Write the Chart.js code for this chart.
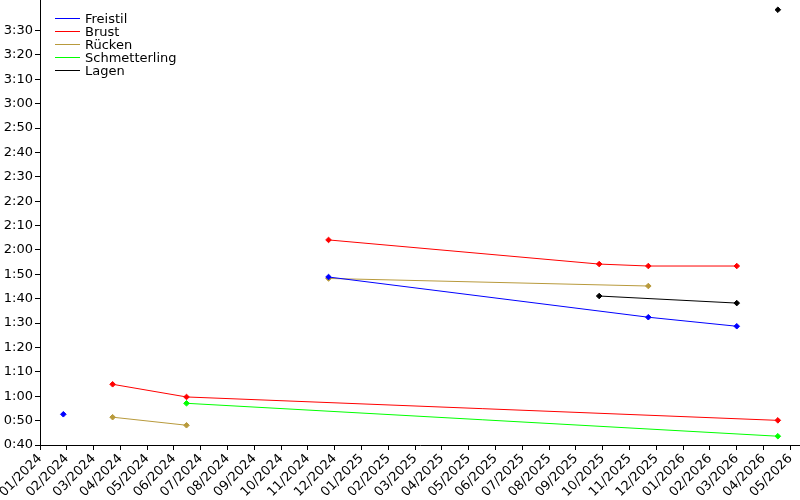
<!DOCTYPE html>
<html>
<head>
<meta charset="utf-8">
<script src="https://cdn.jsdelivr.net/npm/chart.js@4/dist/chart.umd.min.js"></script>
<style>
  body { margin: 0; background: #fff; }
</style>
</head>
<body>
<canvas id="myChart" width="800" height="500"></canvas>
<script>
// Zeiten in Sekunden, Datum des Wettkampfs
var freistil50Dates = ['2024-01-28'];
var freistil50Times = [52.6];
var freistil100Dates = ['2024-11-24', '2025-11-22', '2026-03-01'];
var freistil100Times = [108.9, 92.4, 88.7];

var brust50Dates = ['2024-03-23', '2024-06-15', '2026-04-17'];
var brust50Times = [64.9, 59.7, 50.1];
var brust100Dates = ['2024-11-24', '2025-09-27', '2025-11-22', '2026-03-01'];
var brust100Times = [124.1, 114.2, 113.4, 113.4];

var ruecken50Dates = ['2024-03-23', '2024-06-15'];
var ruecken50Times = [51.4, 48.1];
var ruecken100Dates = ['2024-11-24', '2025-11-22'];
var ruecken100Times = [108.3, 105.2];

var schmetterling50Dates = ['2024-06-15', '2026-04-17'];
var schmetterling50Times = [57.1, 43.6];

var lagen100Dates = ['2025-09-27', '2026-03-01'];
var lagen100Times = [101.1, 98.2];
var lagen200Dates = ['2026-04-17'];
var lagen200Times = [218.5];

// Monate ab 01/2024 als Zahl
function monthIndex(s) {
    var p = s.split('-');
    var y = +p[0], m = +p[1], d = +p[2];
    var days = new Date(y, m, 0).getDate();
    return (y - 2024) * 12 + (m - 1) + (d - 1) / days;
}

function points(dates, times) {
    var out = [];
    for (var i in dates) {
        out.push({ x: monthIndex(dates[i]), y: times[i] });
    }
    return out;
}

function fmtTime(v) {
    var m = Math.floor(v / 60);
    var s = Math.round(v - m * 60);
    return m + ':' + (s < 10 ? '0' : '') + s;
}

function fmtMonth(v) {
    var y = 2024 + Math.floor(v / 12);
    var m = v % 12 + 1;
    return (m < 10 ? '0' : '') + m + '/' + y;
}

function ds(label, color, data) {
    return {
        label: label,
        data: data,
        borderColor: color,
        backgroundColor: color,
        borderWidth: 1,
        pointStyle: 'rectRot',
        pointRadius: 2.8,
        pointBorderWidth: 1,
        tension: 0
    };
}

var blue = '#0000ff', red = '#ff0000', gold = '#b89a3c', green = '#00ff00', black = '#000000';

const chartdata = {
    datasets: [
        ds('Freistil', blue, points(freistil100Dates, freistil100Times)),
        ds('Brust', red, points(brust100Dates, brust100Times)),
        ds('Rücken', gold, points(ruecken100Dates, ruecken100Times)),
        ds('Schmetterling', green, points(schmetterling50Dates, schmetterling50Times)),
        ds('Lagen', black, points(lagen100Dates, lagen100Times)),
        ds('Freistil', blue, points(freistil50Dates, freistil50Times)),
        ds('Brust', red, points(brust50Dates, brust50Times)),
        ds('Rücken', gold, points(ruecken50Dates, ruecken50Times)),
        ds('Lagen', black, points(lagen200Dates, lagen200Times))
    ]
};

// Legende oben links im Diagramm
const innerLegend = {
    id: 'innerLegend',
    afterDraw: function(chart) {
        var ctx = chart.ctx;
        var seen = {};
        var row = 0;
        ctx.save();
        ctx.font = '13px "DejaVu Sans"';
        ctx.textBaseline = 'middle';
        chart.data.datasets.forEach(function(d) {
            if (seen[d.label]) return;
            seen[d.label] = true;
            var y = Math.round(17.5 + row * 13.2) + 0.5;
            ctx.strokeStyle = d.borderColor;
            ctx.lineWidth = 1;
            ctx.beginPath();
            ctx.moveTo(55, y);
            ctx.lineTo(80, y);
            ctx.stroke();
            ctx.fillStyle = '#000';
            ctx.fillText(d.label, 85, y + 1);
            row++;
        });
        ctx.restore();
    }
};

const config = {
    type: 'line',
    data: chartdata,
    options: {
        responsive: false,
        animation: false,
        devicePixelRatio: 1,
        layout: { padding: 0, autoPadding: false },
        plugins: {
            legend: { display: false },
            tooltip: { enabled: false }
        },
        scales: {
            x: {
                type: 'linear',
                min: 0,
                max: 28.36,
                grid: { drawOnChartArea: false, drawTicks: true, tickLength: 5, color: '#000' },
                border: { color: '#000', width: 1 },
                afterFit: function(axis) {
                    axis.height = 55;
                    axis.paddingLeft = 0;
                    axis.paddingRight = 0;
                },
                ticks: {
                    stepSize: 1,
                    includeBounds: false,
                    autoSkip: false,
                    minRotation: 45,
                    maxRotation: 45,
                    padding: 1,
                    color: '#000',
                    font: { family: 'DejaVu Sans', size: 13 },
                    callback: function(v) { return fmtMonth(v); }
                }
            },
            y: {
                min: 40,
                max: 222.5,
                grid: { drawOnChartArea: false, drawTicks: true, tickLength: 5, color: '#000' },
                border: { color: '#000', width: 1 },
                afterBuildTicks: function(axis) {
                    axis.ticks = axis.ticks.filter(function(t) { return t.value <= 215; });
                },
                afterFit: function(axis) {
                    axis.width = 40;
                    axis.paddingTop = 0;
                    axis.paddingBottom = 0;
                },
                ticks: {
                    stepSize: 10,
                    includeBounds: false,
                    color: '#000',
                    padding: 2,
                    font: { family: 'DejaVu Sans', size: 13 },
                    callback: function(v) { return fmtTime(v); }
                }
            }
        }
    },
    plugins: [innerLegend]
};

var myChart = new Chart(document.getElementById('myChart'), config);
</script>
</body>
</html>
